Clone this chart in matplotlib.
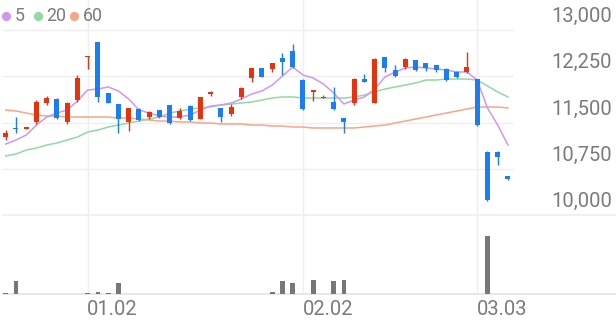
import matplotlib
matplotlib.use('Agg')
import matplotlib.pyplot as plt
from matplotlib.lines import Line2D
from matplotlib.transforms import blended_transform_factory as btf

plt.rcParams['font.family'] = ['Roboto', 'DejaVu Sans']

# ---------------- data ----------------
opens = [11270, 11410, 11390, 11510, 11820, 11880, 11510, 11860, 12560, 12800,
         11980, 11800, 11510, 11720, 11590, 11700, 11780, 11570, 11770, 11560,
         11970, 11740, 11640, 11910, 12220, 12380, 12370, 12550, 12660, 12190,
         11990, 11900, 11830, 11570, 11820, 12210, 11820, 12560, 12350, 12400,
         12510, 12460, 12430, 12370, 12320, 12320, 12200, 11020, 11020, 10630]
highs = [11380, 11590, 11430, 11870, 11930, 11890, 11830, 12270, 12580, 12810,
         11980, 11800, 11740, 11730, 11680, 11710, 11790, 11740, 11780, 11920,
         12010, 11740, 11800, 12080, 12390, 12390, 12470, 12630, 12770, 12200,
         12030, 11940, 12080, 11580, 12220, 12290, 12540, 12570, 12430, 12540,
         12520, 12470, 12440, 12380, 12340, 12640, 12210, 11030, 11030, 10640]
lows = [11220, 11330, 11390, 11480, 11780, 11560, 11480, 11830, 12370, 11830,
        11810, 11330, 11360, 11530, 11560, 11580, 11480, 11560, 11530, 11550,
        11930, 11510, 11610, 11880, 12160, 12230, 12320, 12270, 12380, 11710,
        11850, 11900, 11710, 11330, 11780, 12150, 11810, 12320, 12240, 12370,
        12340, 12340, 12320, 12180, 12220, 12310, 11450, 10230, 10810, 10570]
closes = [11330, 11390, 11430, 11830, 11900, 11570, 11820, 12220, 12580, 11910,
          11820, 11560, 11740, 11540, 11670, 11590, 11490, 11690, 11540, 11910,
          11990, 11590, 11750, 12060, 12380, 12240, 12470, 12480, 12400, 11720,
          12030, 11920, 11720, 11510, 12210, 12160, 12530, 12380, 12250, 12530,
          12350, 12380, 12350, 12190, 12240, 12400, 11460, 10240, 10940, 10580]

ma5 = [11151, 11216, 11297, 11459, 11589, 11654, 11703, 11849, 12027, 12043,
       12076, 12011, 11881, 11703, 11654, 11605, 11589, 11589, 11622, 11703,
       11768, 11784, 11816, 11881, 11962, 12011, 12108, 12254, 12400, 12270,
       12222, 12124, 11978, 11800, 11865, 11914, 12043, 12238, 12319, 12384,
       12400, 12384, 12368, 12351, 12319, 12319, 12189, 11735, 11459, 11135]
ma20 = [10957, 10989, 11054, 11087, 11135, 11168, 11216, 11265, 11346, 11378,
        11427, 11459, 11492, 11524, 11557, 11589, 11654, 11686, 11719, 11735,
        11751, 11784, 11800, 11816, 11832, 11865, 11897, 11914, 11914, 11897,
        11897, 11897, 11897, 11897, 11914, 11946, 11995, 12043, 12076, 12108,
        12141, 12189, 12189, 12205, 12205, 12205, 12189, 12092, 11995, 11914]
ma60 = [11703, 11686, 11654, 11622, 11605, 11605, 11589, 11589, 11589, 11589,
        11589, 11573, 11573, 11557, 11541, 11524, 11524, 11508, 11508, 11492,
        11492, 11476, 11476, 11476, 11459, 11459, 11443, 11443, 11427, 11427,
        11411, 11411, 11411, 11411, 11411, 11427, 11443, 11459, 11492, 11524,
        11557, 11589, 11622, 11654, 11686, 11719, 11751, 11751, 11751, 11735]

volumes = [15000, 270000, 3000, 3000, 2000, 2000, 2000, 3000, 12000, 40000,
           15000, 230000, 3000, 3000, 3000, 3000, 3000, 10000, 3000, 10000,
           8000, 10000, 10000, 3000, 10000, 3000, 40000, 270000, 230000, 5000,
           290000, 5000, 270000, 290000, 10000, 5000, 10000, 8000, 10000, 10000,
           5000, 10000, 5000, 5000, 10000, 5000, 10000, 1200000, 10000, 5000]

date_labels = ['01.02', '02.02', '03.03']
date_positions = [8, 29, 46]
price_ticks = [10000, 10750, 11500, 12250, 13000]
ma_labels = ['5', '20', '60']

# ---------------- style ----------------
UP = '#e6330f'
DOWN = '#1a7ef2'
MA_COLORS = ['#d396f0', '#91d9a3', '#f7a687']
GRID = '#efefef'
TXT = '#7b7b7b'
VOL = '#777777'

W, H = 616, 321
fig = plt.figure(figsize=(W / 100, H / 100), dpi=100)


def fx(px):
    return px / W


def fy(py):
    return 1 - py / H


ax = fig.add_axes([fx(3), fy(215), fx(613), 215 / H])
axv = fig.add_axes([fx(3), fy(294), fx(613), 79 / H])
for a in (ax, axv):
    a.axis('off')

step = 10.25          # pixels per candle
x0 = 5.7              # pixel of first candle
xl = ((3 - x0) / step, (616 - x0) / step)
ax.set_xlim(*xl)
axv.set_xlim(*xl)

ppx = 3000 / 185.0    # price per pixel
ax.set_ylim(10000, 13000 + 30 * ppx)
axv.set_ylim(0, max(volumes) / 0.734)

# grid
gx_end = (512 - 3) / 613
for t in price_ticks[1:]:
    ax.axhline(t, xmin=0, xmax=gx_end, color=GRID, lw=1, zorder=0)
ax.axhline(price_ticks[0], color=GRID, lw=1.2, zorder=0, clip_on=False)
axv.axhline(0, color='#e3e3e3', lw=1.2, zorder=0, clip_on=False)
for p in date_positions:
    ax.axvline(p, color=GRID, lw=1, zorder=0)
    axv.axvline(p, color=GRID, lw=1, zorder=0)

# moving averages
xs = list(range(len(closes)))
for vals, c in zip([ma60, ma20, ma5], MA_COLORS[::-1]):
    ax.plot(xs, vals, color=c, lw=1.1, zorder=2, solid_joinstyle='round')

# candles
bw = 0.48
for i in xs:
    o, h, l, c = opens[i], highs[i], lows[i], closes[i]
    col = UP if c >= o else DOWN
    ax.plot([i, i], [l, h], color=col, lw=1.0, zorder=3, solid_capstyle='butt')
    ax.bar(i, abs(c - o), bottom=min(o, c), width=bw, color=col,
           linewidth=0, zorder=4)

# volume
axv.bar(xs, volumes, width=0.45, color=VOL, linewidth=0, zorder=2)

# y labels (above gridlines, right side)
tr = btf(fig.transFigure, ax.transData)
for t in price_ticks:
    ax.text(612 / W, t + 13.5 * ppx, f'{t:,}', transform=tr, ha='right',
            va='center', fontsize=14.5, color=TXT)

# x labels
trx = btf(axv.transData, fig.transFigure)
for p, lab in zip(date_positions, date_labels):
    axv.text(p - 0.05, fy(309.5), lab, transform=trx, ha='left', va='center',
             fontsize=14.5, color=TXT)

# legend
cx = [6.3, 37.5, 73.5]
tx = [14.5, 46.5, 82.5]
for c, xc, xt, lab in zip(MA_COLORS, cx, tx, ma_labels):
    fig.add_artist(Line2D([fx(xc)], [fy(16)], marker='o', markersize=5.6,
                          color=c, linestyle='none', transform=fig.transFigure))
    fig.text(fx(xt), fy(16), lab, ha='left', va='center', fontsize=12.8,
             color=TXT)

fig.savefig('out.png', dpi=100)
